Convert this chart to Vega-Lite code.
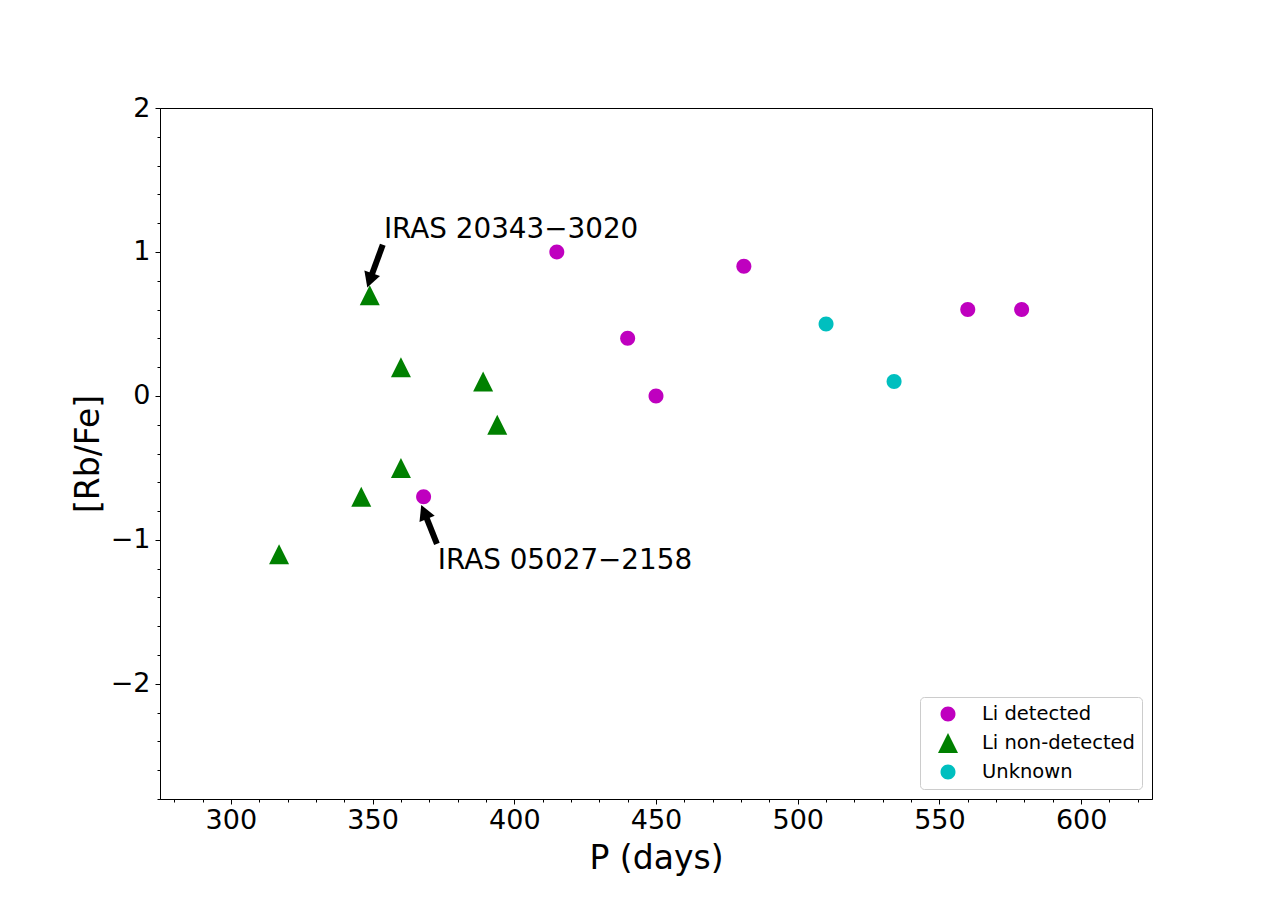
{
  "$schema": "https://vega.github.io/schema/vega-lite/v6.json",
  "width": 992,
  "height": 691,
  "autosize": {"type": "none"},
  "padding": {"left": 160, "top": 108, "right": 128, "bottom": 99},
  "background": "white",
  "config": {
    "view": {"stroke": "black", "strokeWidth": 1},
    "axis": {
      "grid": false,
      "domainColor": "black",
      "tickColor": "black",
      "labelColor": "black",
      "titleColor": "black",
      "labelFont": "DejaVu Sans",
      "titleFont": "DejaVu Sans",
      "titleFontWeight": "normal",
      "labelFontSize": 27,
      "titleFontSize": 33,
      "labelOverlap": false,
      "labelFlush": false
    },
    "legend": {
      "orient": "bottom-right",
      "offset": 10,
      "labelFont": "DejaVu Sans",
      "labelFontSize": 19.5,
      "labelColor": "black",
      "symbolSize": 400,
      "symbolStrokeWidth": 0,
      "padding": 7,
      "rowPadding": 9,
      "symbolOffset": 11,
      "labelOffset": 24,
      "strokeColor": "#cccccc",
      "fillColor": "white",
      "cornerRadius": 4
    }
  },
  "datasets": {
    "points": [
      {"P": 415, "RbFe": 1.0, "group": "Li detected"},
      {"P": 440, "RbFe": 0.4, "group": "Li detected"},
      {"P": 450, "RbFe": 0.0, "group": "Li detected"},
      {"P": 481, "RbFe": 0.9, "group": "Li detected"},
      {"P": 368, "RbFe": -0.7, "group": "Li detected"},
      {"P": 560, "RbFe": 0.6, "group": "Li detected"},
      {"P": 579, "RbFe": 0.6, "group": "Li detected"},
      {"P": 317, "RbFe": -1.1, "group": "Li non-detected"},
      {"P": 346, "RbFe": -0.7, "group": "Li non-detected"},
      {"P": 349, "RbFe": 0.7, "group": "Li non-detected"},
      {"P": 360, "RbFe": 0.2, "group": "Li non-detected"},
      {"P": 360, "RbFe": -0.5, "group": "Li non-detected"},
      {"P": 389, "RbFe": 0.1, "group": "Li non-detected"},
      {"P": 394, "RbFe": -0.2, "group": "Li non-detected"},
      {"P": 510, "RbFe": 0.5, "group": "Unknown"},
      {"P": 534, "RbFe": 0.1, "group": "Unknown"}
    ],
    "arrows": [
      {"id": "a1", "tailX": 353.6, "tailY": 1.05, "headX": 349.0, "headY": 0.803},
      {"id": "a2", "tailX": 372.7, "tailY": -1.028, "headX": 368.2, "headY": -0.806}
    ],
    "labels": [
      {"label": "IRAS 20343−3020", "x": 354, "y": 1.1},
      {"label": "IRAS 05027−2158", "x": 373, "y": -1.2}
    ]
  },
  "resolve": {"axis": {"x": "independent", "y": "independent"}},
  "layer": [
    {
      "data": {"name": "points"},
      "mark": {"type": "point", "filled": true, "size": 400, "opacity": 1},
      "encoding": {
        "x": {
          "field": "P", "type": "quantitative", "title": "P (days)",
          "scale": {"domain": [275, 625], "nice": false, "zero": false},
          "axis": {
            "values": [280, 290, 300, 310, 320, 330, 340, 350, 360, 370, 380, 390, 400, 410, 420, 430, 440, 450, 460, 470, 480, 490, 500, 510, 520, 530, 540, 550, 560, 570, 580, 590, 600, 610, 620],
            "tickCount": 100,
            "labelExpr": "datum.value % 50 === 0 ? format(datum.value, 'd') : ''",
            "tickSize": {"condition": {"test": "datum.value % 50 === 0", "value": 5}, "value": 3},
            "labelPadding": 3,
            "titlePadding": 9
          }
        },
        "y": {
          "field": "RbFe", "type": "quantitative", "title": "[Rb/Fe]",
          "scale": {"domain": [-2.8, 2], "nice": false, "zero": false},
          "axis": {
            "values": [-2.8, -2.6, -2.4, -2.2, -2, -1.8, -1.6, -1.4, -1.2, -1, -0.8, -0.6, -0.4, -0.2, 0, 0.2, 0.4, 0.6, 0.8, 1, 1.2, 1.4, 1.6, 1.8, 2],
            "tickCount": 100,
            "labelExpr": "abs(datum.value - round(datum.value)) < 0.001 ? format(datum.value, 'd') : ''",
            "tickSize": {"condition": {"test": "abs(datum.value - round(datum.value)) < 0.001", "value": 5}, "value": 3},
            "labelPadding": 5,
            "titlePadding": 5
          }
        },
        "color": {
          "field": "group", "type": "nominal", "title": null,
          "scale": {"domain": ["Li detected", "Li non-detected", "Unknown"], "range": ["#bf00bf", "#008000", "#00bfbf"]}
        },
        "shape": {
          "field": "group", "type": "nominal", "title": null,
          "scale": {"domain": ["Li detected", "Li non-detected", "Unknown"], "range": ["M-0.75,0A0.75,0.75,0,1,0,0.75,0A0.75,0.75,0,1,0,-0.75,0Z", "M0,-1L-1,1L1,1Z", "M-0.75,0A0.75,0.75,0,1,0,0.75,0A0.75,0.75,0,1,0,-0.75,0Z"]}
        }
      }
    },
    {
      "data": {"name": "arrows"},
      "mark": {"type": "rule", "color": "black", "strokeWidth": 6},
      "encoding": {
        "x": {"field": "tailX", "type": "quantitative", "axis": null},
        "y": {"field": "tailY", "type": "quantitative", "axis": null},
        "x2": {"field": "headX"},
        "y2": {"field": "headY"}
      }
    },
    {
      "data": {"name": "arrows"},
      "mark": {"type": "point", "filled": true, "color": "black", "opacity": 1, "size": 225, "shape": "M0,-1L-1.1,1L1.1,1Z"},
      "encoding": {
        "x": {"field": "headX", "type": "quantitative", "axis": null},
        "y": {"field": "headY", "type": "quantitative", "axis": null},
        "angle": {"condition": {"test": "datum.id === 'a1'", "value": 199}, "value": 337}
      }
    },
    {
      "data": {"name": "labels"},
      "mark": {"type": "text", "align": "left", "baseline": "alphabetic", "font": "DejaVu Sans", "fontSize": 27.8, "color": "black"},
      "encoding": {
        "x": {"field": "x", "type": "quantitative", "axis": null},
        "y": {"field": "y", "type": "quantitative", "axis": null},
        "text": {"field": "label"}
      }
    }
  ]
}
